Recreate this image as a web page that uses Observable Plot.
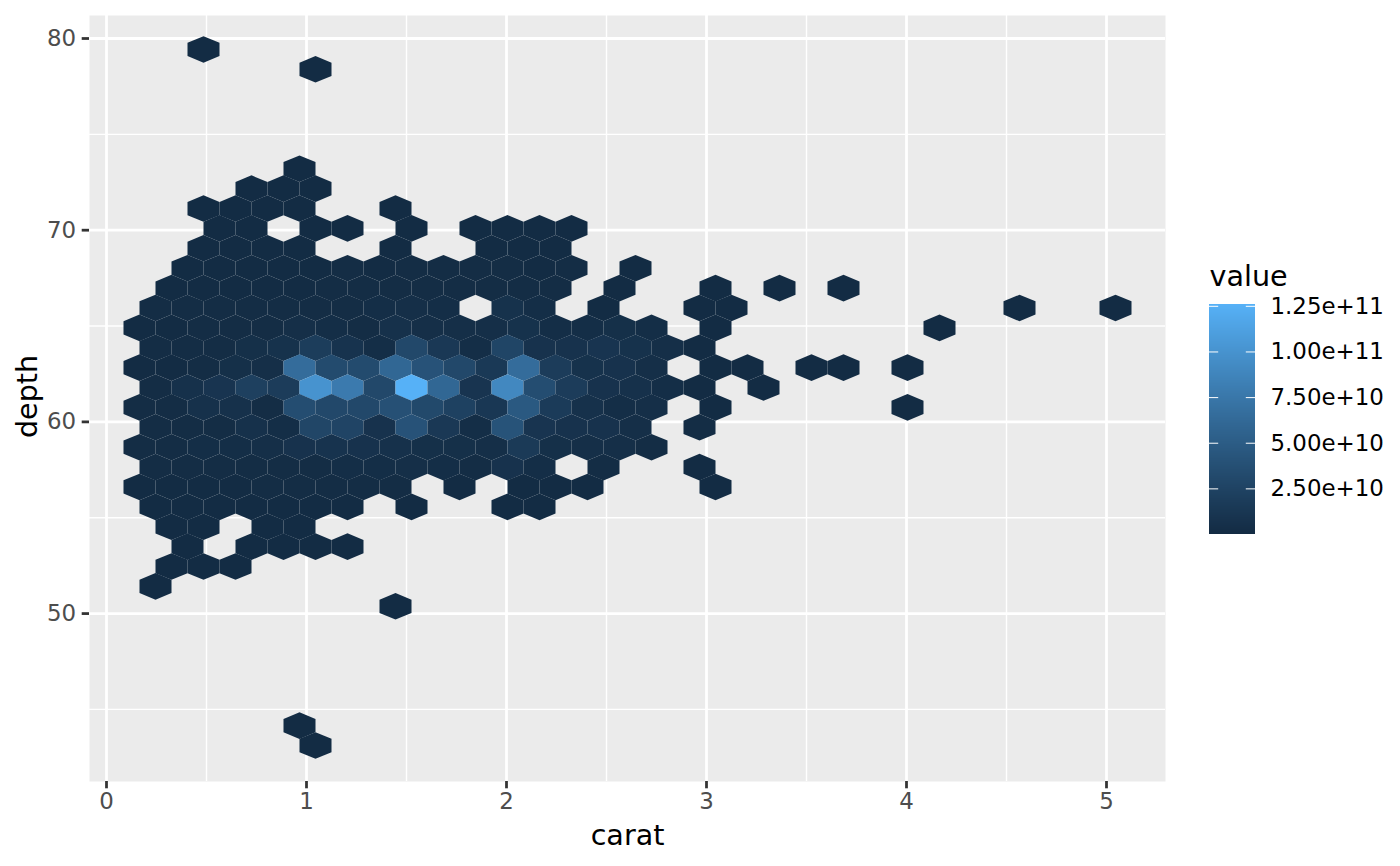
<!DOCTYPE html>
<html>
<head>
<meta charset="utf-8">
<script src="https://cdn.jsdelivr.net/npm/d3@7"></script>
<script src="https://cdn.jsdelivr.net/npm/@observablehq/plot@0.6"></script>
<style>
  html, body { margin: 0; padding: 0; background: #fff; }
  #chart { position: relative; width: 1400px; height: 866px; overflow: hidden; }
  #chart svg { position: absolute; display: block; background: transparent; }
</style>
</head>
<body>
<div id="chart"></div>
<script>
// Hexagon bins: row number, the columns filled in that row, and the value (in 1e9) of each.
const binCarat0 = 0.165, binCaratStep = 0.16, binDepth0 = 79.43, binDepthStep = 1.0375;

const rowNumbers = [0,1,6,7,8,9,10,11,12,13,14,15,16,17,18,19,20,21,22,23,24,25,26,27,28,34,35];

const rowColumns = [
  [2],
  [5],
  [5],
  [3,4,5],
  [2,3,4,5,8],
  [2,3,5,6,8,10,11,12,13],
  [2,3,4,5,8,11,12,13],
  [1,2,3,4,5,6,7,8,9,10,11,12,13,15],
  [1,2,3,4,5,6,7,8,9,10,11,12,13,15,18,20,22],
  [0,1,2,3,4,5,6,7,8,9,11,12,14,17,18,27,30],
  [0,1,2,3,4,5,6,7,8,9,10,11,12,13,14,15,16,18,25],
  [0,1,2,3,4,5,6,7,8,9,10,11,12,13,14,15,16,17],
  [0,1,2,3,4,5,6,7,8,9,10,11,12,13,14,15,16,18,19,21,22,24],
  [0,1,2,3,4,5,6,7,8,9,10,11,12,13,14,15,16,17,19],
  [0,1,2,3,4,5,6,7,8,9,10,11,12,13,14,15,16,18,24],
  [0,1,2,3,4,5,6,7,8,9,10,11,12,13,14,15,17],
  [0,1,2,3,4,5,6,7,8,9,10,11,12,13,14,15,16],
  [0,1,2,3,4,5,6,7,8,9,10,11,12,14,17],
  [0,1,2,3,4,5,6,7,8,10,12,13,14,18],
  [0,1,2,3,4,5,6,8,11,12],
  [1,2,4,5],
  [1,3,4,5,6],
  [1,2,3],
  [0],
  [8],
  [5],
  [5]
];

const rowValues = [
  [1],
  [1],
  [1],
  [1,1,1],
  [1,1,1,1,1],
  [1,1,1,1,1,1,1,1,1],
  [1,1,1,1,1,1,1,1],
  [1,1,1,1,1,2,1,2,2,2,2,1,2,1],
  [1,1,1,1,1,2,2,2,2,2,2,2,2,1,1,1,1],
  [2,2,2,2,2,2,2,3,4,3,7,3,1,1,1,1,1],
  [1,1,2,2,2,4,3,2,6,4,4,4,7,3,3,5,3,1,1],
  [2,2,2,5,7,19,9,3,30,14,3,27,8,8,10,7,4,1],
  [1,1,2,5,4,65,33,33,60,40,30,15,65,18,7,8,4,1,1,1,1,1],
  [2,6,10,22,18,100,78,30,126,60,10,90,35,18,8,6,3,1,1],
  [2,2,6,6,2,35,30,30,38,31,23,13,47,17,6,3,4,1,1],
  [2,2,2,6,3,28,26,8,40,14,3,41,10,8,8,4,2],
  [2,2,3,3,4,8,9,8,6,5,5,4,16,5,4,4,2],
  [2,2,2,2,2,2,3,3,4,3,2,8,3,2,1],
  [1,1,1,1,2,2,2,2,2,1,1,1,1,1],
  [1,1,1,1,1,1,1,1,1,1],
  [1,1,1,1],
  [1,1,1,1,1],
  [1,1,1],
  [1],
  [1],
  [1],
  [1]
];

const xTicks = [0,1,2,3,4,5];
const xMinor = [0.5,1.5,2.5,3.5,4.5];
const yTicks = [50,60,70,80];
const yMinor = [45,55,65,75];
const legendTicks = [2.5e10,5e10,7.5e10,1e11,1.25e11];
const rampColors = ["#132B43","#56B1F7"];
const valueDomain = [0,1.26e11];

const hexes = rowNumbers.flatMap((n,i) => rowColumns[i].map((c,j) => ({
  carat: binCarat0 + binCaratStep*(c + (n%2 ? 0.5 : 0)),
  depth: binDepth0 - binDepthStep*n,
  value: rowValues[i][j]*1e9
})));

const hexSymbol = {
  draw(ctx) {
    const w = 16, h = 13.3, s = 6.65;
    ctx.moveTo(0,-h); ctx.lineTo(w,-s); ctx.lineTo(w,s);
    ctx.lineTo(0,h); ctx.lineTo(-w,s); ctx.lineTo(-w,-s); ctx.closePath();
  }
};

const colorOpts = {type:"linear", domain:valueDomain, range:rampColors, interpolate:"lab"};
const FONT = "'DejaVu Sans', sans-serif";

const main = Plot.plot({
  width:1400, height:866,
  marginLeft:89, marginRight:235, marginTop:15, marginBottom:85,
  style:{fontFamily:FONT, background:"transparent"},
  x:{domain:[-0.085,5.295], label:null},
  y:{domain:[41.24,81.2], label:null},
  color:colorOpts,
  marks:[
    Plot.frame({fill:"#EBEBEB", stroke:null}),
    Plot.ruleX(xMinor,{stroke:"#fff", strokeWidth:1.39}),
    Plot.ruleY(yMinor,{stroke:"#fff", strokeWidth:1.39}),
    Plot.ruleX(xTicks,{stroke:"#fff", strokeWidth:2.77}),
    Plot.ruleY(yTicks,{stroke:"#fff", strokeWidth:2.77}),
    Plot.dot(hexes,{x:"carat", y:"depth", fill:"value", symbol:hexSymbol, r:10, stroke:null}),
    Plot.axisX(xTicks,{anchor:"bottom", label:null, tickSize:7.3, tickPadding:4, strokeWidth:2.77, stroke:"#333333", fill:"#4D4D4D", fontSize:22.9, tickFormat:d=>String(d)}),
    Plot.axisY(yTicks,{anchor:"left", label:null, tickSize:7.3, tickPadding:6, strokeWidth:2.77, stroke:"#333333", fill:"#4D4D4D", fontSize:22.9, tickFormat:d=>String(d)}),
    Plot.text(["carat"],{frameAnchor:"bottom", textAnchor:"middle", dy:63, fontSize:28.6, fill:"#000"}),
    Plot.text(["depth"],{frameAnchor:"left", textAnchor:"middle", dx:-62, dy:-2, rotate:-90, fontSize:28.6, fill:"#000"})
  ]
});
main.style.left = "0px"; main.style.top = "0px";

const legendSteps = d3.range(0,230).map(i => ({
  y1: valueDomain[1]*i/230, y2: valueDomain[1]*(i+1)/230, v: valueDomain[1]*(i+0.5)/230
}));

const legend = Plot.plot({
  width:191, height:290,
  marginLeft:0, marginRight:145, marginTop:54, marginBottom:6,
  style:{fontFamily:FONT, background:"transparent"},
  x:{domain:[0,1], axis:null},
  y:{domain:valueDomain, label:null},
  color:colorOpts,
  marks:[
    Plot.rect(legendSteps,{x1:0, x2:1, y1:"y1", y2:"y2", fill:"v", shapeRendering:"crispEdges"}),
    Plot.ruleY(legendTicks,{x1:0, x2:0.2, stroke:"#fff", strokeWidth:1}),
    Plot.ruleY(legendTicks,{x1:0.8, x2:1, stroke:"#fff", strokeWidth:1}),
    Plot.axisY(legendTicks,{anchor:"right", label:null, tickSize:0, tickPadding:15, fill:"#000", fontSize:22.9, tickFormat:d3.format(".2e")}),
    Plot.text(["value"],{frameAnchor:"top-left", dy:-39, fontSize:28.6, fill:"#000"})
  ]
});
legend.style.left = "1209px"; legend.style.top = "250px";

const root = document.getElementById("chart");
root.append(main, legend);
</script>
</body>
</html>
